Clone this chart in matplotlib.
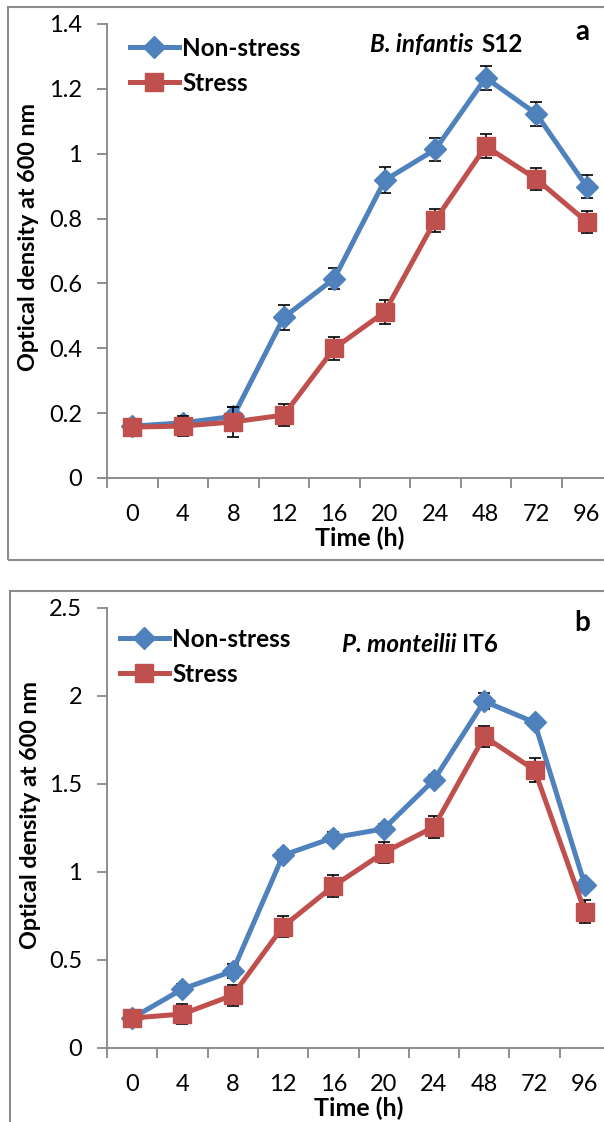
import numpy as np
import matplotlib
matplotlib.use('Agg')
import matplotlib.pyplot as plt
from matplotlib.patches import Rectangle

plt.rcParams['font.family'] = ['Lato', 'DejaVu Sans']

times = ['0', '4', '8', '12', '16', '20', '24', '48', '72', '96']

# panel a - B. infantis S12
a_non = [0.16, 0.17, 0.19, 0.495, 0.615, 0.918, 1.013, 1.234, 1.123, 0.898]
a_non_err = [0.01, 0.015, 0.03, 0.038, 0.033, 0.04, 0.036, 0.037, 0.037, 0.036]
a_str = [0.157, 0.16, 0.173, 0.194, 0.40, 0.512, 0.795, 1.023, 0.922, 0.79]
a_str_err = [0.01, 0.03, 0.046, 0.033, 0.035, 0.037, 0.035, 0.037, 0.033, 0.034]

# panel b - P. monteilii IT6
b_non = [0.17, 0.335, 0.437, 1.095, 1.195, 1.245, 1.523, 1.97, 1.85, 0.926]
b_non_err = [0.01, 0.03, 0.04, 0.03, 0.03, 0.03, 0.03, 0.045, 0.02, 0.03]
b_str = [0.17, 0.193, 0.30, 0.69, 0.92, 1.11, 1.256, 1.77, 1.58, 0.775]
b_str_err = [0.01, 0.055, 0.06, 0.06, 0.063, 0.06, 0.06, 0.06, 0.066, 0.064]

W, H = 604, 1122
blue = '#4F81BD'
red = '#C0504D'
grey = '#868686'

fig = plt.figure(figsize=(W / 100, H / 100), dpi=100)


def fx(x):
    return x / W


def fy(y):
    return 1 - y / H


def box(l, t, r, b):
    return [fx(l), fy(b), (r - l) / W, (b - t) / H]


def panel(rect, non, non_err, stress, stress_err, ymax, ystep, leg_xy):
    ax = fig.add_axes(rect)
    x = np.arange(len(times))
    ax.errorbar(x, non, yerr=non_err, fmt='none', ecolor='black',
                elinewidth=1.2, capsize=4, capthick=1.2, zorder=2)
    ax.errorbar(x, stress, yerr=stress_err, fmt='none', ecolor='black',
                elinewidth=1.2, capsize=4, capthick=1.2, zorder=4)
    ax.plot(x, non, color=blue, lw=3.6, marker='D', ms=11, label='Non-stress', zorder=3)
    ax.plot(x, stress, color=red, lw=3.6, marker='s', ms=13, label='Stress', zorder=5)

    ax.set_xlim(-0.5, len(times) - 0.5)
    ax.set_ylim(0, ymax)
    ax.set_yticks(np.arange(0, ymax + ystep / 2, ystep))
    ax.set_yticklabels(['%g' % v for v in np.arange(0, ymax + ystep / 2, ystep)])
    ax.set_xticks(np.arange(-0.5, len(times) - 0.5, 1))
    ax.set_xticklabels([])
    ax.set_xticks(x, minor=True)
    ax.set_xticklabels(times, minor=True)
    ax.tick_params(axis='x', which='major', length=7, width=1.3, color=grey, direction='out')
    ax.tick_params(axis='x', which='minor', length=0, pad=19, labelsize=17)
    ax.tick_params(axis='y', length=7, width=1.3, color=grey, direction='out', pad=11, labelsize=17)
    for s in ['top', 'right']:
        ax.spines[s].set_visible(False)
    for s in ['left', 'bottom']:
        ax.spines[s].set_color(grey)
        ax.spines[s].set_linewidth(1.3)
    ax.set_xlabel('Time (h)', fontsize=18, fontweight='bold', labelpad=1)
    ax.legend(loc='upper left', bbox_to_anchor=leg_xy, frameon=False,
              handlelength=2.0, handletextpad=0.15, labelspacing=0.5,
              borderpad=0, borderaxespad=0,
              prop={'size': 17.5, 'weight': 'bold'})
    return ax


ax_a = panel(box(107, 24, 612, 478), a_non, a_non_err, a_str, a_str_err,
             1.4, 0.2, (0.0455, 0.972))
ax_b = panel(box(107, 608, 610, 1048), b_non, b_non_err, b_str, b_str_err,
             2.5, 0.5, (0.026, 0.955))

# chart area frames
fig.patches.append(Rectangle((fx(8), fy(560)), (620 - 8) / W, (560 - 7) / H,
                             transform=fig.transFigure, fill=False,
                             edgecolor='#8c8c8c', lw=1.5))
fig.patches.append(Rectangle((fx(10), fy(1135)), (620 - 10) / W, (1135 - 591) / H,
                             transform=fig.transFigure, fill=False,
                             edgecolor='#8c8c8c', lw=1.5))

# y labels
fig.text(fx(29), fy(237), 'Optical density at 600 nm', rotation=90,
         ha='center', va='center', fontsize=16.8, fontweight='bold')
fig.text(fx(31), fy(815), 'Optical density at 600 nm', rotation=90,
         ha='center', va='center', fontsize=16.8, fontweight='bold')

# strain names and panel letters
fig.text(fx(474), fy(52), 'B. infantis', ha='right', va='baseline',
         fontsize=17.5, fontweight='bold', style='italic')
fig.text(fx(481), fy(52), 'S12', ha='left', va='baseline', fontsize=17.5, fontweight='bold')
fig.text(fx(582), fy(40), 'a', ha='center', va='baseline', fontsize=20, fontweight='bold')

fig.text(fx(457), fy(652), 'P. monteilii', ha='right', va='baseline',
         fontsize=17.5, fontweight='bold', style='italic')
fig.text(fx(462), fy(652), 'IT6', ha='left', va='baseline', fontsize=17.5, fontweight='bold')
fig.text(fx(582), fy(631), 'b', ha='center', va='baseline', fontsize=20, fontweight='bold')

fig.savefig('out.png', dpi=100)
